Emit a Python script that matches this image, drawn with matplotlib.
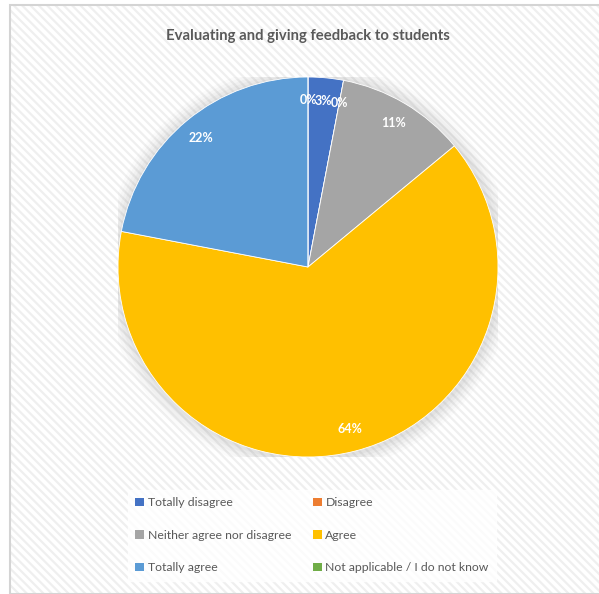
import matplotlib as mpl
mpl.use('Agg')
import matplotlib.pyplot as plt
from matplotlib.patches import Rectangle, Circle

categories = ["Totally disagree", "Disagree", "Neither agree nor disagree",
              "Agree", "Totally agree", "Not applicable / I do not know"]
shares = [3, 0, 11, 64, 22, 0]
colors = ["#4472C4", "#ED7D31", "#A5A5A5", "#FFC000", "#5B9BD5", "#70AD47"]

plt.rcParams['font.family'] = ['Lato', 'DejaVu Sans']
plt.rcParams['hatch.linewidth'] = 1.6

W, H = 599, 594
fig = plt.figure(figsize=(W / 100, H / 100), dpi=100)

# chart area with striped fill
stripes = Rectangle((10 / W, 0), 1, 1 - 5 / H, transform=fig.transFigure,
                    facecolor='white', edgecolor='#efefef', linewidth=0,
                    hatch='\\' * 4, zorder=-3)
border = Rectangle((10 / W, 0), 1, 1 - 5 / H, transform=fig.transFigure,
                   facecolor='none', edgecolor='#d4d4d4', linewidth=1.5,
                   zorder=-2)
fig.patches.extend([stripes, border])

# pie axes (center 308,267 radius 190 in pixels)
ax = fig.add_axes([118 / W, (H - 457) / H, 380 / W, 380 / H])
ax.set_xlim(-1, 1)
ax.set_ylim(-1, 1)
ax.set_aspect('equal')
ax.axis('off')

# soft shadow around the pie
for i, a in enumerate([0.04, 0.05, 0.06, 0.07, 0.08]):
    ax.add_patch(Circle((0.005, -0.005), 1.08 - i * 0.016, color='#999999',
                        alpha=a, linewidth=0, zorder=0))

wedges, texts, autotexts = ax.pie(
    shares, colors=colors, startangle=90, counterclock=False,
    radius=1, autopct='%.0f%%', pctdistance=0.88,
    wedgeprops=dict(edgecolor='white', linewidth=0.6),
    textprops=dict(color='white', fontsize=9, fontweight='bold'))
for w in wedges:
    w.set_zorder(2)
for t in autotexts:
    t.set_zorder(3)
ax.set_xlim(-1, 1)
ax.set_ylim(-1, 1)

fig.text(308 / W, 1 - 36 / H, "Evaluating and giving feedback to students",
         ha='center', va='center', fontsize=10.7, fontweight='bold',
         color='#595959')

# legend: two columns, filled row by row
order = [0, 2, 4, 1, 3, 5]
leg = fig.legend([wedges[i] for i in order], [categories[i] for i in order],
                 ncol=2, loc='upper left', bbox_to_anchor=(122 / W, 1 - 484 / H),
                 frameon=True, fontsize=8.8, handlelength=0.7, handleheight=0.7,
                 handletextpad=0.3, columnspacing=1.8, labelspacing=1.75,
                 borderpad=0.6, fancybox=False)
leg.get_frame().set_facecolor('white')
leg.get_frame().set_edgecolor('white')
for t in leg.get_texts():
    t.set_color('#595959')
for h in leg.legend_handles:
    h.set_edgecolor('none')

plt.savefig('out.png', dpi=100)
